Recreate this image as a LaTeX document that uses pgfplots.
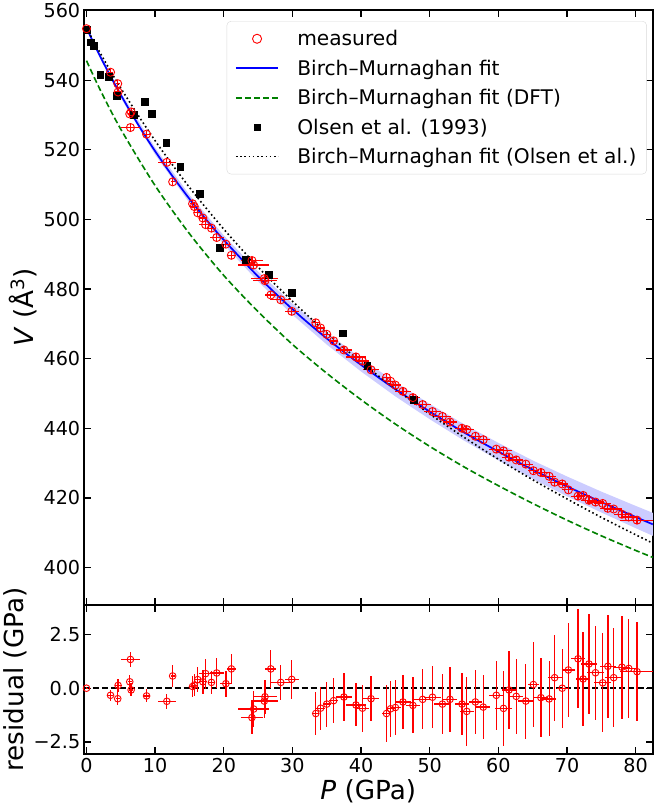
\documentclass[border=0pt]{standalone}
\usepackage{fontspec}
\setmainfont{DejaVu Sans}
\usepackage{pgfplots}
\pgfplotsset{compat=1.18}
\usepackage{pgfplotstable}
\definecolor{mplgreen}{rgb}{0,0.5,0}
\definecolor{mplred}{rgb}{1,0,0}
\definecolor{mplblue}{rgb}{0,0,1}
\definecolor{bandblue}{rgb}{0.8,0.8,1}

\pgfplotstableread{
P V dP dV r dr
0 554.8 0.1 0.3 0.0 0.05
3.5 542.3 0.3 1.0 -0.33 0.25
4.55 539.0 0.3 1.0 -0.49 0.3
4.6 536.6 0.4 1.0 0.13 0.3
6.4 526.4 1.4 1.0 1.34 0.35
6.3 530.3 0.3 1.0 0.30 0.3
6.5 530.9 0.3 1.0 -0.08 0.3
8.75 524.5 0.5 1.0 -0.36 0.3
11.7 516.4 1.3 1.0 -0.61 0.35
12.55 510.8 0.3 1.0 0.57 0.5
15.45 504.5 0.4 1.0 0.08 0.5
15.7 503.7 0.5 1.0 0.14 0.5
16.2 501.9 0.5 1.0 0.40 0.6
16.95 500.4 0.6 1.0 0.30 0.55
17.35 498.5 0.9 1.0 0.68 0.7
18.2 497.5 0.5 1.0 0.27 0.55
18.97 494.8 1.0 1.0 0.71 0.7
20.3 492.9 0.8 1.0 0.21 0.6
21.1 489.7 0.7 1.0 0.90 0.7
24.1 488.2 1.6 1.0 -1.37 0.75
24.35 486.9 2.3 1.0 -0.97 0.85
25.9 483.0 2.0 1.0 -0.60 0.8
26.0 482.4 1.8 1.0 -0.40 0.8
26.85 478.3 0.8 1.0 0.90 0.9
28.3 476.9 1.5 1.0 0.27 0.8
29.9 473.6 1.0 1.0 0.41 0.9
33.4 470.3 0.5 1.0 -1.18 1.0
34.1 468.8 0.6 1.0 -0.93 1.0
35.0 467.0 0.6 1.0 -0.74 1.05
36.0 465.1 0.7 1.0 -0.58 1.05
37.5 462.5 1.2 1.0 -0.41 1.1
39.25 460.5 1.5 1.0 -0.78 1.0
40.2 459.3 1.0 1.0 -0.93 1.1
41.45 456.8 1.1 1.0 -0.49 1.05
43.7 454.6 0.6 1.0 -1.18 1.35
44.3 453.5 0.6 1.0 -0.96 1.3
45.0 452.4 0.8 1.0 -0.90 1.3
46.1 450.6 1.2 1.0 -0.64 1.25
47.55 448.8 1.0 1.0 -0.80 1.3
48.97 446.8 1.2 1.0 -0.52 1.4
50.4 444.8 1.2 1.0 -0.42 1.45
51.85 443.4 1.3 1.0 -0.74 1.4
52.95 441.8 1.0 1.0 -0.52 1.5
54.7 440.0 1.0 1.0 -0.74 1.45
55.4 439.6 1.0 1.0 -1.08 1.6
56.65 437.7 1.0 1.0 -0.64 1.5
57.8 436.7 1.0 1.0 -0.88 1.5
59.7 434.0 1.0 1.0 -0.33 1.6
60.75 433.5 1.2 1.0 -0.94 1.75
61.55 431.7 1.0 1.0 -0.08 1.8
62.6 430.9 1.0 1.0 -0.38 1.75
64.0 429.7 1.1 1.0 -0.60 1.75
65.1 427.8 0.8 1.0 0.17 2.0
66.2 427.3 1.0 1.0 -0.44 1.85
67.4 426.2 1.0 1.0 -0.50 1.75
68.2 424.5 1.0 1.0 0.49 2.0
69.3 424.0 0.8 1.0 0.00 1.85
70.2 422.3 1.0 1.0 0.85 2.2
71.6 420.5 1.0 1.0 1.37 2.3
72.35 420.7 1.0 1.0 0.43 2.2
73.2 419.3 1.2 1.0 1.13 2.35
74.15 418.8 1.2 1.0 0.72 2.2
75.2 418.4 1.2 1.0 0.25 2.3
75.95 417.0 1.2 1.0 1.02 2.4
76.8 416.8 1.2 1.0 0.49 2.3
78.0 415.3 1.2 1.0 0.98 2.4
79.0 414.5 1.2 1.0 0.92 2.3
80.2 413.6 2.5 1.0 0.77 2.3
}\meas

\pgfplotstableread{
P V
0 554.6
0.55 550.9
1.0 550.0
2.0 541.5
3.2 541.0
4.45 535.5
6.9 530.0
8.5 533.8
9.45 530.3
11.6 522.1
13.65 515.2
16.55 507.4
19.45 492.0
23.2 488.4
26.55 484.0
29.9 478.9
37.3 467.3
40.9 457.9
47.65 448.3
}\olsen

\pgfplotstableread{
P V
0 555.0
2 546.8
4 539.3
6 532.3
8 525.7
10 519.6
12.5 512.5
15 505.9
17.5 499.8
20 494.1
25 483.6
30 474.2
35 465.8
40 458.2
45 451.2
50 444.8
55 438.8
60 433.3
65 428.1
70 423.3
75 418.8
80 414.5
82.5 412.4
}\bmfit

\pgfplotstableread{
P V
0 545.6
2 537.2
5 525.9
10 509.7
15 495.9
20 483.9
25 473.5
30 464.1
35 455.8
40 448.2
45 441.2
50 434.8
55 428.9
60 423.5
65 418.4
70 413.6
75 409.1
80 404.9
82.5 402.9
}\dftfit

\pgfplotstableread{
P V
0 555.0
2 547.8
5 537.7
10 522.6
15 509.2
20 497.2
25 486.3
30 476.5
35 467.4
40 459.0
45 451.3
50 444.1
55 437.4
60 431.1
65 425.2
70 419.7
75 414.4
80 409.4
82.5 407.0
}\olsenfit

\begin{document}
\begin{tikzpicture}
\pgfplotsset{
  every axis/.append style={
    scale only axis, width=564.2pt,
    axis line style={line width=1.6pt},
    tick style={line width=1.3pt, black},
    major tick length=7pt,
    tick align=inside,
    xtick pos=both, ytick pos=both,
    tick label style={font=\fontsize{19}{22}\selectfont},
    label style={font=\fontsize{26}{30}\selectfont},
    /pgf/number format/assume math mode=true,
    xmin=-0.4, xmax=82.5,
    xtick={0,10,...,80},
  },
  legend image code/.code={\draw[mark repeat=2,mark phase=2,#1] plot coordinates {(0pt,0pt) (21pt,0pt) (42pt,0pt)};},
}
\begin{axis}[name=top, height=589.4pt,
  ymin=389.3, ymax=560.1, ytick={400,420,...,560},
  xticklabels={},
  ylabel={\textit{V} (Å\textsuperscript{3})},
  legend cell align=left,
  legend style={at={(0.2512,0.9818)}, anchor=north west, draw=black!15, rounded corners=4pt, fill=white,
    font=\fontsize{20}{24}\selectfont, row sep=8.5pt, inner xsep=8pt, inner ysep=7pt,
    /tikz/every odd column/.append style={column sep=16pt}},
]
\addlegendimage{only marks, mark=o, mplred, mark size=4.5pt, mark options={line width=0.9pt}}
\addlegendentry{measured}
\addlegendimage{mplblue, line width=1.8pt}
\addlegendentry{Birch–Murnaghan fit}
\addlegendimage{mplgreen, line width=1.8pt, dash pattern=on 6pt off 3pt}
\addlegendentry{Birch–Murnaghan fit (DFT)}
\addlegendimage{only marks, mark=square*, black, mark size=2.7pt}
\addlegendentry{Olsen et al. (1993)}
\addlegendimage{black, line width=1.8pt, dash pattern=on 1.6pt off 2.6pt}
\addlegendentry{Birch–Murnaghan fit (Olsen et al.)}

\addplot[forget plot, fill=bandblue, draw=none] coordinates {
(0,555.5) (2,547.4) (5,536.5) (10,520.6) (15,507.05) (20,495.4) (25,485.05) (30,475.8) (35,467.55) (40,460.1) (45,453.25) (50,447.0) (55,441.15) (60,435.8) (65,430.75) (70,426.15) (75,421.8) (80,417.7) (82.5,415.7)
(82.5,409.1) (80,411.3) (75,415.8) (70,420.45) (65,425.45) (60,430.8) (55,436.45) (50,442.6) (45,449.15) (40,456.3) (35,464.05) (30,472.6) (25,482.15) (20,492.8) (15,504.75) (10,518.6) (5,534.9) (2,546.2) (0,554.5)
} -- cycle;
\addplot[forget plot, mplblue, line width=1.7pt, smooth] table[x=P, y=V] {\bmfit};
\addplot[forget plot, mplgreen, line width=1.6pt, dash pattern=on 6pt off 3pt, smooth] table[x=P, y=V] {\dftfit};
\addplot[forget plot, black, line width=1.6pt, dash pattern=on 1.6pt off 2.6pt, smooth] table[x=P, y=V] {\olsenfit};
\addplot[forget plot, only marks, mark=square*, black, mark size=3.4pt] table[x=P, y=V] {\olsen};
\addplot[forget plot, only marks, mark=o, mplred, mark size=4pt, mark options={line width=0.9pt},
  error bars/.cd, x dir=both, x explicit, y dir=both, y explicit,
  error bar style={line width=1.2pt, mplred}, error mark=none]
  table[x=P, y=V, x error=dP, y error=dV] {\meas};
\end{axis}

\begin{axis}[at={(top.south west)}, anchor=north west, height=148.3pt,
  ymin=-3.08, ymax=3.89, ytick={-2.5,0,2.5}, yticklabels={−2.5,0.0,2.5},
  xlabel={\textit{P} (GPa)}, ylabel={residual (GPa)},
]
\addplot[black, line width=1.7pt, dash pattern=on 6pt off 3pt] coordinates {(-0.4,0) (82.5,0)};
\addplot[only marks, mark=o, mplred, mark size=3.3pt, mark options={line width=0.9pt},
  error bars/.cd, x dir=both, x explicit, y dir=both, y explicit,
  error bar style={line width=1.3pt, mplred}, error mark=none]
  table[x=P, y=r, x error=dP, y error=dr] {\meas};
\end{axis}
\end{tikzpicture}
\end{document}
